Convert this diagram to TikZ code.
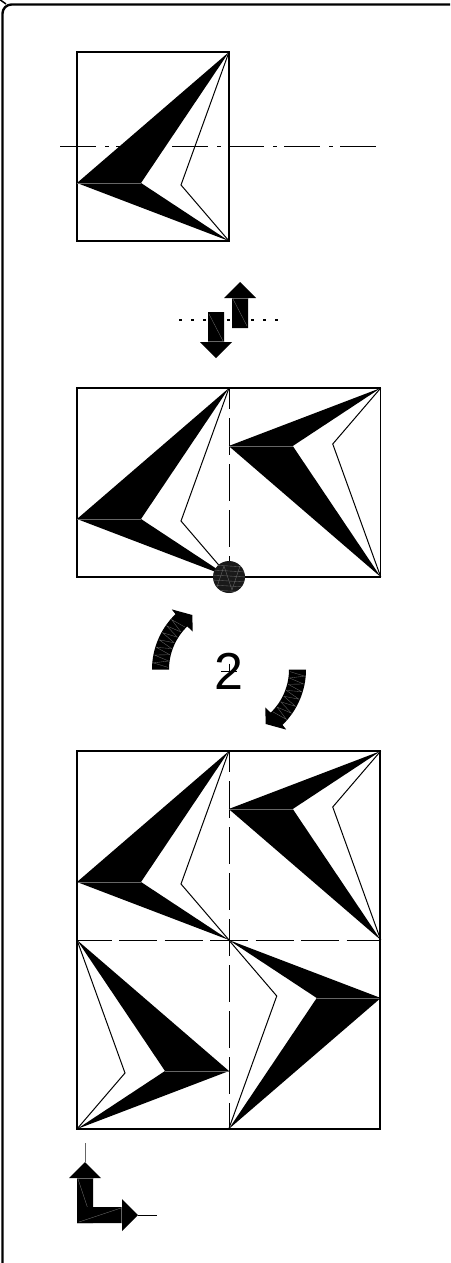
\documentclass[tikz,border=0pt]{standalone}
\usepackage{fontspec}
\setmainfont{Liberation Sans}
\usepackage{tikz}
\usetikzlibrary{calc}

\begin{document}
\begin{tikzpicture}[
  x=1pt,y=1pt,
  frameline/.style={line width=2.4pt,rounded corners=9pt},
  cell/.style={line width=1.2pt},
  fullcell/.style={line width=2.4pt},
  thinline/.style={line width=1pt,line join=miter},
  seam/.style={draw=black!60,line width=.35pt},
  mirrorline/.style={line width=1.3pt,dash pattern=on 36pt off 9pt on 4pt off 7pt},
  foldv/.style={line width=.9pt,dash pattern=on 37pt off 9pt,dash phase=16pt},
  foldh/.style={line width=.9pt,dash pattern=on 38pt off 7.5pt,dash phase=3.5pt},
  glide/.style={line width=1.1pt,dash pattern=on 3pt off 9pt},
  pics/kite/.style={code={
    \fill (-76,-36.5) -- (76,94.5) -- (-12,-36.5) -- (76,-94.5) -- cycle;
    \draw[seam] (-76,-36.5) -- (-12,-36.5);
    \draw[thinline] (76,94.5) -- (28,-38.5) -- (76,-94.5);
  }},
  pics/blockarrow/.style={code={
    \fill (0,0) -- (16,-16) -- (8,-16) -- (8,-#1) -- (-8,-#1) -- (-8,-16) -- (-16,-16) -- cycle;
    \draw[seam] (-8,-16.5) -- (8,-16.5);
    \draw[seam] (-7,-17) -- (7,-#1+2);
  }},
  pics/turnarrow/.style={code={
    \fill (180:60) arc (180:134:60) -- (133.8:52.4) -- (-36.7,54.5) -- (133.6:83)
      -- (134:77) arc (134:180:77) -- cycle;
    \foreach \a in {178,172,...,142} {
      \draw[seam] (\a:61) -- (\a-3:76) -- (\a-6:61);
    }
  }}]
\clip (0,0) rectangle (450,-1263);
% outer frame
\draw[frameline] (2.5,-1275) -- (2.5,-4.5) -- (460,-4.5);
\draw[line width=1.5pt] (-1,1) -- (6,-4);
% top row
\draw[mirrorline] (60,-146.5) -- (376,-146.5);
\draw[cell] (77,-52) rectangle (229,-241);
\pic at (153,-146.5) {kite};
% glide symbol
\draw[glide] (179,-320) -- (280,-320);
\pic[rotate=180] at (216,-358) {blockarrow=46};
\pic at (240,-282) {blockarrow=46};
% middle row
\draw[cell] (77,-388) rectangle (380.5,-577);
\draw[foldv] (229,-388) -- (229,-577);
\pic at (153,-482.5) {kite};
\pic[yscale=-1] at (304.75,-482.5) {kite};
\node[circle,fill=black!90,minimum size=32pt,inner sep=0pt] (pivot) at (229,-577) {};
\begin{scope}
  \clip (229,-577) circle (16);
  \foreach \y in {-565,-570,...,-590} {
    \draw[seam] (212,\y) -- (246,\y-2);
  }
  \draw[seam] (216,-590) -- (224,-566) -- (232,-590) -- (240,-566);
\end{scope}
% rotation symbol
\node[inner sep=0pt,font=\fontsize{52}{52}\selectfont] (order) at (229,-671.5) {2};
\draw[line width=.5pt] ($(order.center)+(-8,0)$) -- ($(order.center)+(8,0)$);
\draw[line width=.5pt] ($(order.center)+(0,8)$) -- ($(order.center)+(0,-3)$);
\pic at (229,-669.5) {turnarrow};
\pic[rotate=180] at (229,-669.5) {turnarrow};
% bottom row
\draw[foldv] (229,-751) -- (229,-1129);
\draw[foldh] (77,-940) -- (380.5,-940);
\pic at (153,-845.5) {kite};
\pic[yscale=-1] at (304.75,-845.5) {kite};
\pic[xscale=-1] at (153,-1034.5) {kite};
\pic[xscale=-1,yscale=-1] at (304.75,-1034.5) {kite};
\draw[fullcell] (77,-751) rectangle (380,-1129);
% axes
\draw[line width=1pt,black!60] (85,-1143) -- (85,-1162);
\draw[line width=.8pt] (138,-1215) -- (157,-1215);
\pic at (85,-1162) {blockarrow=61};
\pic[rotate=-90] at (138,-1215) {blockarrow=61};
\end{tikzpicture}
\end{document}
